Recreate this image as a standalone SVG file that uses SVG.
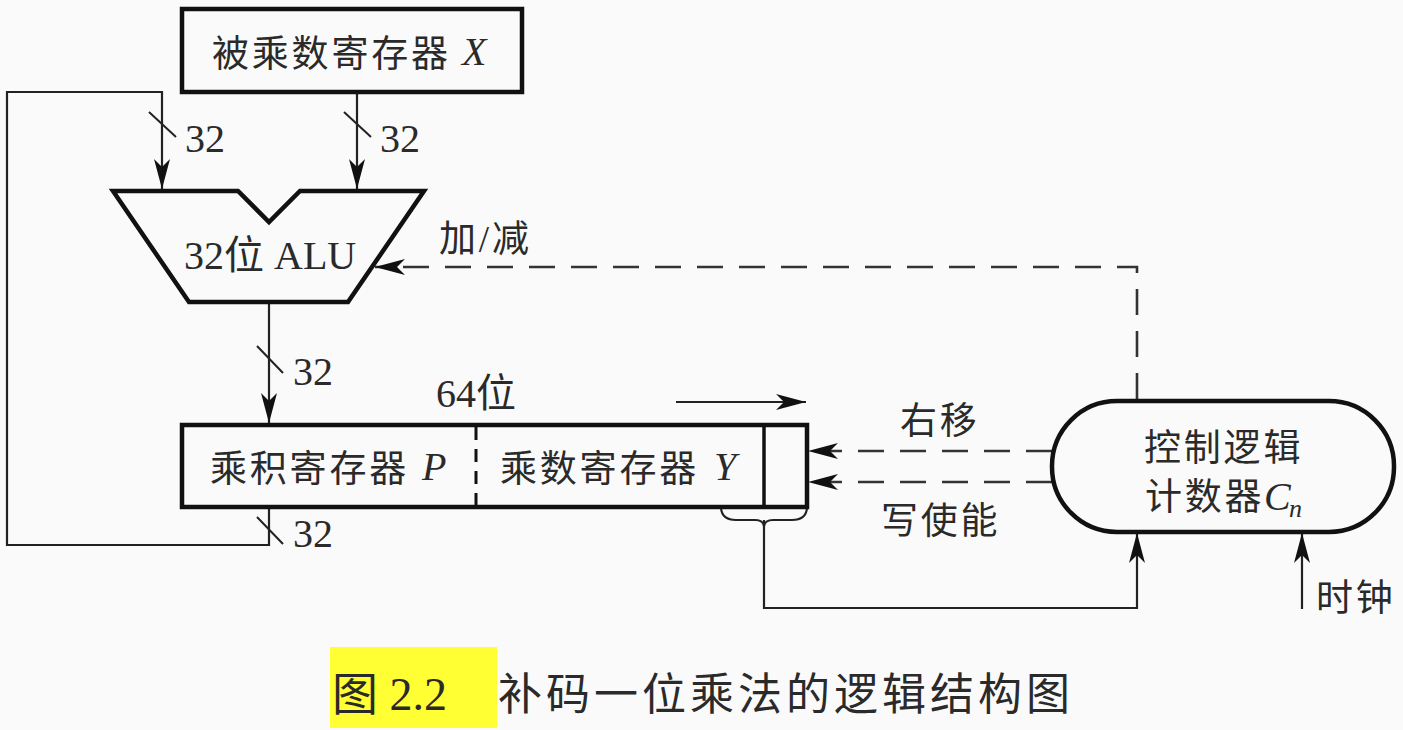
<svg xmlns="http://www.w3.org/2000/svg" width="1403" height="730" viewBox="0 0 1403 730">
<style>
text{font-family:"Liberation Serif","Noto Sans CJK SC",serif;fill:#2a2a2a}
.t{font-size:37px;letter-spacing:2.8px}
.n{font-size:40px}
.i{font-style:italic}
.b{fill:none;stroke:#111;stroke-width:4.5}
.c{fill:none;stroke:#222;stroke-width:2.2}
.d{fill:none;stroke:#333;stroke-width:2.6;stroke-dasharray:26 16}
.s{stroke:#222;stroke-width:2}
</style>
<defs>
<marker id="a" markerUnits="userSpaceOnUse" markerWidth="32" markerHeight="26" refX="30" refY="13" orient="auto">
<path d="M0 5 L30 13 L0 21 L8 13Z" fill="#111"/>
</marker>
</defs>
<rect width="1403" height="730" fill="#fafafa"/>
<rect x="330" y="647" width="167" height="81" fill="#ffff33"/>
<g id="connectors">
<path class="c" d="M269 507V545H7V92H162V189" marker-end="url(#a)"/>
<path class="c" d="M357 92V189" marker-end="url(#a)"/>
<path class="c" d="M269 302V423" marker-end="url(#a)"/>
<path class="c" d="M676 402H806" marker-end="url(#a)"/>
<path class="c" d="M764 520V608H1137V533" marker-end="url(#a)"/>
<path class="c" d="M1302 609V533" marker-end="url(#a)"/>
<path class="c" d="M721 508Q722 520 736 520H755Q763 520 764 526Q765 520 773 520H792Q806 520 807 508"/>
<path class="d" d="M1137 399V267H375" marker-end="url(#a)"/>
<path class="d" d="M1052 451H808" marker-end="url(#a)"/>
<path class="d" d="M1052 482H808" marker-end="url(#a)"/>
<path class="s" d="M149 112L176 137M344 112L371 137M257 346L283 373M257 517L283 544"/>
</g>
<g id="x-reg">
<rect class="b" x="182" y="9" width="340" height="83"/>
<text class="t" x="212" y="67">被乘数寄存器</text>
<text class="n i" x="462" y="65">X</text>
</g>
<g id="alu">
<path class="b" d="M113 191H238L269 222L300 191H424L348 302H189Z"/>
<text class="n" x="184" y="269">32位 ALU</text>
</g>
<g id="pq-reg">
<rect class="b" x="182" y="425" width="625" height="82"/>
<path d="M476 427V507" fill="none" stroke="#111" stroke-width="3" stroke-dasharray="13 9"/>
<path d="M764 425V507" fill="none" stroke="#111" stroke-width="3.5"/>
<text class="t" x="210" y="482">乘积寄存器</text>
<text class="n i" x="422" y="480">P</text>
<text class="t" x="500" y="482">乘数寄存器</text>
<text class="n i" x="714" y="480">Y</text>
</g>
<g id="control">
<rect class="b" x="1052" y="401" width="342" height="131" rx="65" ry="65"/>
<text class="t" x="1144" y="461">控制逻辑</text>
<text class="t" x="1145" y="510">计数器</text>
<text class="n i" x="1264" y="510">C</text>
<text class="i" x="1289" y="517" font-size="26">n</text>
</g>
<g id="labels">
<text class="n" x="185" y="152">32</text>
<text class="n" x="380" y="152">32</text>
<text class="n" x="293" y="385">32</text>
<text class="n" x="293" y="547">32</text>
<text class="n" x="436" y="407">64位</text>
<text class="t" x="439" y="252">加/减</text>
<text class="t" x="900" y="434">右移</text>
<text class="t" x="881" y="534">写使能</text>
<text class="t" x="1316" y="611">时钟</text>
</g>
<g id="caption">
<text x="332" y="710" font-size="46">图 2.2</text>
<text x="498" y="710" font-size="44" letter-spacing="4">补码一位乘法的逻辑结构图</text>
</g>
</svg>
